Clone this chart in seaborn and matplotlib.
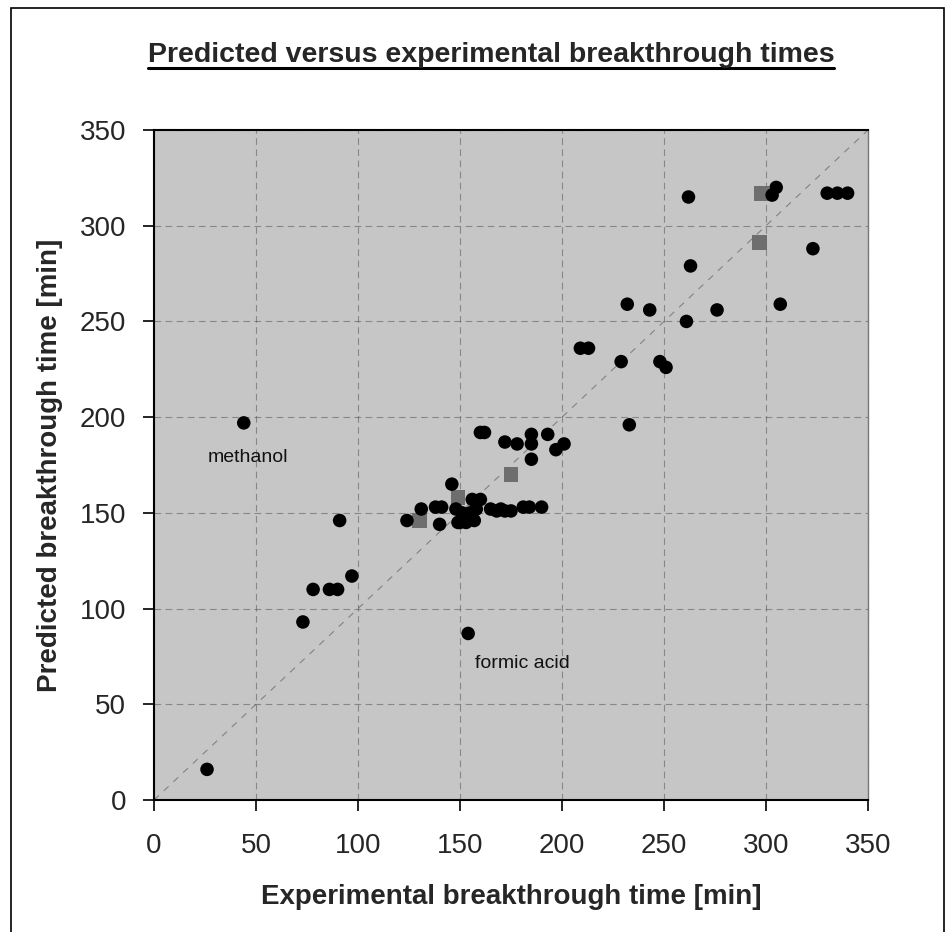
import numpy as np
import pandas as pd
import seaborn as sns
import matplotlib.pyplot as plt
from matplotlib.lines import Line2D
from matplotlib.patches import Rectangle

# experimental vs predicted breakthrough times [min]
exp_time = [26, 44, 73, 78, 86, 90, 91, 97, 124, 131, 138, 141, 140, 146,
            148, 149, 150, 151, 153, 155, 156, 157, 158, 160, 160, 162,
            165, 168, 170, 172, 172, 175, 178, 181, 184, 185, 185, 185,
            190, 193, 197, 201, 154, 209, 213, 229, 233, 232, 243, 248,
            251, 261, 263, 262, 276, 303, 305, 307, 323, 330, 335, 340]
pred_time = [16, 197, 93, 110, 110, 110, 146, 117, 146, 152, 153, 153, 144, 165,
             152, 145, 145, 150, 145, 150, 157, 146, 152, 157, 192, 192,
             152, 151, 152, 151, 187, 151, 186, 153, 153, 191, 186, 178,
             153, 191, 183, 186, 87, 236, 236, 229, 196, 259, 256, 229,
             226, 250, 279, 315, 256, 316, 320, 259, 288, 317, 317, 317]

# grey square markers (second series)
sq_exp = [130, 149, 175, 297, 298]
sq_pred = [146, 158, 170, 291, 317]

ticks = [0, 50, 100, 150, 200, 250, 300, 350]

pts = pd.DataFrame({"exp": exp_time, "pred": pred_time})
sq = pd.DataFrame({"exp": sq_exp, "pred": sq_pred})

sns.set_style("ticks")
plt.rcParams["font.family"] = ["Liberation Sans", "DejaVu Sans"]

fig = plt.figure(figsize=(9.47, 9.32), dpi=100)
ax = fig.add_axes([154 / 947, 1 - 800 / 932, 714 / 947, 670 / 932])
ax.set_facecolor("#c6c6c6")

ax.set_xlim(0, 350)
ax.set_ylim(0, 350)
ax.set_xticks(ticks)
ax.set_yticks(ticks)
ax.grid(True, linestyle=(0, (6, 4)), color="#4a4a4a", linewidth=0.8, alpha=0.5)
ax.set_axisbelow(True)

# 1:1 line
ax.plot([0, 350], [0, 350], linestyle=(0, (6, 6)), color="#555555", linewidth=0.8,
        alpha=0.6, zorder=1)

sns.scatterplot(data=sq, x="exp", y="pred", marker="s", s=115, color="#6e6e6e",
                edgecolor="none", ax=ax, zorder=3)
sns.scatterplot(data=pts, x="exp", y="pred", marker="o", s=95, color="black",
                edgecolor="none", ax=ax, zorder=4)

ax.text(26.5, 179, "methanol", fontsize=14, va="center", ha="left", color="#111111")
ax.text(157.5, 71.5, "formic acid", fontsize=14, va="center", ha="left", color="#111111")

ax.tick_params(axis="both", labelsize=20, length=8, width=1.2, direction="out", color="black")
ax.tick_params(axis="x", pad=16)
ax.tick_params(axis="y", pad=12)

for side in ["left", "bottom", "top"]:
    ax.spines[side].set_color("black")
    ax.spines[side].set_linewidth(1.5)
ax.spines["right"].set_color("#777777")
ax.spines["right"].set_linewidth(1.0)

ax.set_xlabel("Experimental breakthrough time [min]", fontsize=20, fontweight="bold")
ax.set_ylabel("Predicted breakthrough time [min]", fontsize=20, fontweight="bold")
ax.xaxis.set_label_coords(0.5, -0.125)
ax.yaxis.set_label_coords(-0.128, 0.5)

title = fig.text(491 / 947, 1 - 55 / 932, "Predicted versus experimental breakthrough times",
                 fontsize=20.5, fontweight="bold", ha="center", va="center")

# underline the title
fig.canvas.draw()
bb = title.get_window_extent().transformed(fig.transFigure.inverted())
fig.add_artist(Line2D([bb.x0, bb.x1], [1 - 68 / 932, 1 - 68 / 932], color="black",
                      linewidth=2.2, transform=fig.transFigure))

# outer frame
fig.add_artist(Rectangle((11 / 947, -0.01), 933 / 947, 0.01 + 1 - 8 / 932, fill=False,
                         edgecolor="black", linewidth=1.2, transform=fig.transFigure))

fig.savefig("out.png", dpi=100)
